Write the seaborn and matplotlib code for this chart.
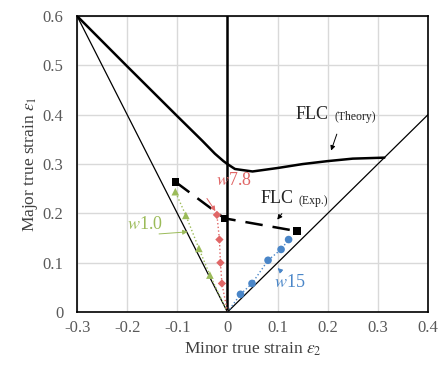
import numpy as np
import pandas as pd
import seaborn as sns
import matplotlib.pyplot as plt

# FLC (theory) curve
theory_x = [-0.3, -0.2, -0.1, -0.05, -0.025, -0.008, 0.0, 0.015, 0.05, 0.1, 0.15, 0.2, 0.25, 0.313]
theory_y = [0.6, 0.498, 0.397, 0.347, 0.321, 0.306, 0.300, 0.290, 0.285, 0.292, 0.3, 0.306, 0.311, 0.313]

# FLC (experiment)
exp_x = [-0.104, -0.006, 0.139]
exp_y = [0.264, 0.19, 0.164]

# strain paths for each specimen width
w1_x = [0.0, -0.035, -0.057, -0.083, -0.104]
w1_y = [0.0, 0.075, 0.129, 0.196, 0.244]
w78_x = [0.0, -0.011, -0.014, -0.016, -0.021]
w78_y = [0.0, 0.058, 0.10, 0.147, 0.197]
w15_x = [0.0, 0.026, 0.049, 0.081, 0.107, 0.122]
w15_y = [0.0, 0.036, 0.058, 0.105, 0.127, 0.147]

# reference lines (uniaxial / equi-biaxial)
uni_x = [-0.3, 0.0]
uni_y = [0.6, 0.0]
bi_x = [0.0, 0.4]
bi_y = [0.0, 0.4]

xticks = [-0.3, -0.2, -0.1, 0, 0.1, 0.2, 0.3, 0.4]
yticks = [0, 0.1, 0.2, 0.3, 0.4, 0.5, 0.6]

sns.set_theme(style="whitegrid")
plt.rcParams['font.family'] = ['Liberation Serif', 'DejaVu Serif']
plt.rcParams['mathtext.fontset'] = 'stix'

fig, ax = plt.subplots(figsize=(4.43, 3.65), dpi=100)
fig.subplots_adjust(left=0.174, right=0.966, bottom=0.145, top=0.956)

green = '#9bbb59'
red = '#e06666'
blue = '#4a86c8'

sns.lineplot(x=uni_x, y=uni_y, color='black', lw=0.9, ax=ax)
sns.lineplot(x=bi_x, y=bi_y, color='black', lw=0.9, ax=ax)
ax.axvline(0, color='black', lw=1.8, zorder=2)

sns.lineplot(x=theory_x, y=theory_y, sort=False, color='black', lw=1.8, ax=ax)

sns.lineplot(x=w1_x, y=w1_y, sort=False, color=green, lw=1, ls=':', ax=ax)
sns.scatterplot(x=w1_x[1:], y=w1_y[1:], marker='^', color=green, s=30, edgecolor='none', ax=ax, zorder=4)
sns.lineplot(x=w78_x, y=w78_y, sort=False, color=red, lw=1, ls=':', ax=ax)
sns.scatterplot(x=w78_x[1:], y=w78_y[1:], marker='D', color=red, s=18, edgecolor='none', ax=ax, zorder=4)
sns.lineplot(x=w15_x, y=w15_y, sort=False, color=blue, lw=1, ls=':', ax=ax)
sns.scatterplot(x=w15_x[1:], y=w15_y[1:], marker='o', color=blue, s=30, edgecolor='none', ax=ax, zorder=4)

sns.lineplot(x=exp_x, y=exp_y, sort=False, color='black', lw=1.8, ax=ax)
ax.lines[-1].set_dashes([7, 4])
sns.scatterplot(x=exp_x, y=exp_y, marker='s', color='black', s=30, edgecolor='none', ax=ax, zorder=5)

# annotations
ax.text(0.136, 0.401, 'FLC', fontsize=13, ha='left', va='center')
ax.text(0.214, 0.396, '(Theory)', fontsize=8.5, ha='left', va='center')
ax.annotate('', xy=(0.205, 0.322), xytext=(0.22, 0.366),
            arrowprops=dict(arrowstyle='-|>', color='black', lw=0.7, mutation_scale=7))
ax.text(0.066, 0.230, 'FLC', fontsize=13, ha='left', va='center')
ax.text(0.142, 0.225, '(Exp.)', fontsize=8.5, ha='left', va='center')
ax.annotate('', xy=(0.096, 0.183), xytext=(0.112, 0.204),
            arrowprops=dict(arrowstyle='-|>', color='black', lw=0.7, mutation_scale=7))

ax.text(0.012, 0.266, '$w$7.8', fontsize=13, color=red, ha='center', va='center')
ax.annotate('', xy=(-0.021, 0.2), xytext=(-0.044, 0.235),
            arrowprops=dict(arrowstyle='-|>', color=red, lw=0.7, mutation_scale=7))
ax.text(-0.165, 0.178, '$w$1.0', fontsize=13, color=green, ha='center', va='center')
ax.annotate('', xy=(-0.074, 0.163), xytext=(-0.142, 0.158),
            arrowprops=dict(arrowstyle='-|>', color=green, lw=0.7, mutation_scale=7))
ax.text(0.124, 0.059, '$w$15', fontsize=13, color=blue, ha='center', va='center')
ax.annotate('', xy=(0.096, 0.093), xytext=(0.112, 0.078),
            arrowprops=dict(arrowstyle='-|>', color=blue, lw=0.7, mutation_scale=7))

ax.set_xlim(-0.3, 0.4)
ax.set_ylim(0, 0.6)
ax.set_xticks(xticks)
ax.set_yticks(yticks)
ax.set_xticklabels([f'{t:g}' for t in xticks])
ax.set_yticklabels([f'{t:g}' for t in yticks])
ax.tick_params(colors='#595959', labelsize=12, length=0)
ax.tick_params(axis='y', pad=10)
ax.tick_params(axis='x', pad=6)
ax.grid(color='#d9d9d9', lw=1)
for s in ax.spines.values():
    s.set_color('black')
    s.set_linewidth(1.2)

ax.set_xlabel(r'Minor true strain $\varepsilon_2$', fontsize=12.5, color='#404040', labelpad=3)
ax.set_ylabel(r'Major true strain $\varepsilon_1$', fontsize=12.5, color='#404040', labelpad=2)

fig.savefig('out.png', dpi=100, facecolor='white')
